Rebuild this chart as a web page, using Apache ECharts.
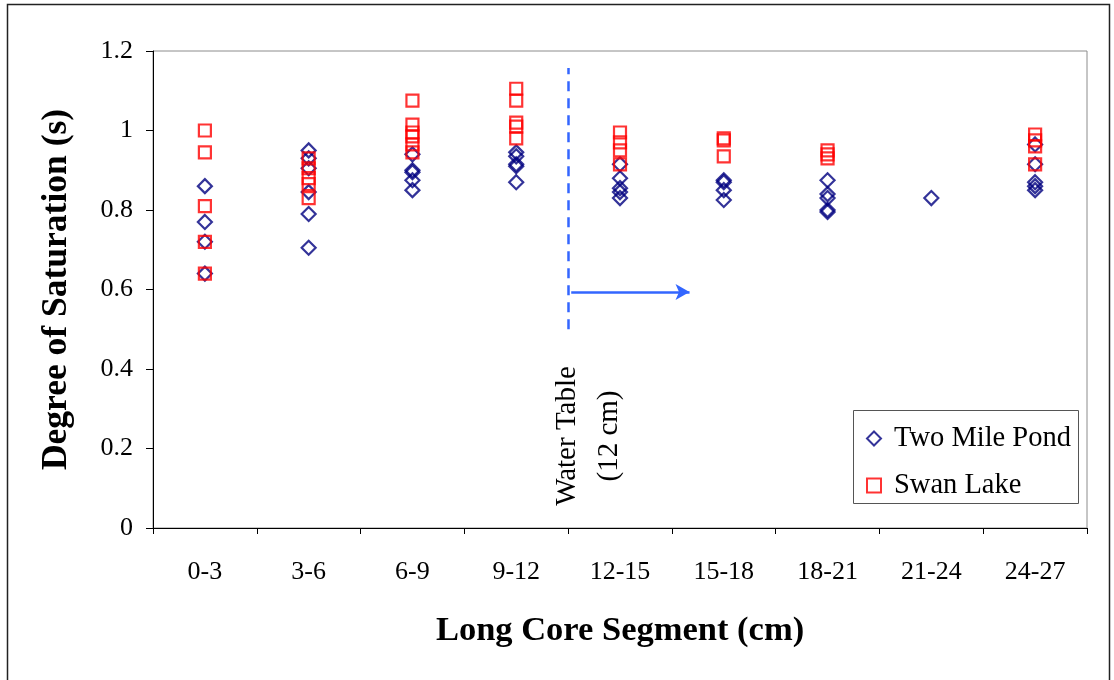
<!DOCTYPE html>
<html>
<head>
<meta charset="utf-8">
<script src="https://cdn.jsdelivr.net/npm/echarts@6/dist/echarts.min.js"></script>
<style>
  html, body { margin: 0; padding: 0; background: #fff; }
  #chart { width: 1114px; height: 680px; }
</style>
</head>
<body>
<div id="chart"></div>
<script>
// Core segments (cm)
const categories = ['0-3', '3-6', '6-9', '9-12', '12-15', '15-18', '18-21', '21-24', '24-27'];

// Degree of saturation readings per segment
const twoMilePond = [
  [0.86, 0.77, 0.72, 0.64],
  [0.95, 0.93, 0.905, 0.845, 0.79, 0.705],
  [0.94, 0.90, 0.895, 0.875, 0.85],
  [0.945, 0.935, 0.915, 0.91, 0.87],
  [0.915, 0.88, 0.855, 0.845, 0.83],
  [0.875, 0.87, 0.85, 0.825],
  [0.875, 0.84, 0.83, 0.80, 0.795],
  [0.83],
  [0.965, 0.915, 0.87, 0.86, 0.85]
];
const swanLake = [
  [1.0, 0.945, 0.81, 0.72, 0.64],
  [0.93, 0.905, 0.88, 0.865, 0.83],
  [1.075, 1.015, 0.995, 0.985, 0.965, 0.945],
  [1.105, 1.075, 1.02, 1.01, 0.98],
  [0.995, 0.97, 0.95, 0.915],
  [0.98, 0.975, 0.935],
  [0.95, 0.94, 0.93],
  [],
  [0.99, 0.975, 0.96, 0.915]
];

// Water table position (segment boundary at 12 cm) and the arrow pointing below it
const waterTableX = 4;
const waterTableSpan = [0.5, 1.157];
const arrowFrom = [4.03, 0.594];
const arrowTo = [5.17, 0.594];

const yTicks = { min: 0, max: 1.2, interval: 0.2 };

function toPoints(groups) {
  const out = [];
  groups.forEach((vals, i) => vals.forEach(v => out.push([categories[i], v])));
  return out;
}

const serif = '"Liberation Serif", "Times New Roman", serif';
const chart = echarts.init(document.getElementById('chart'), null, { renderer: 'canvas' });

chart.setOption({
  backgroundColor: '#ffffff',
  animation: false,
  textStyle: { fontFamily: serif },
  grid: {
    left: 153, top: 51, right: 27, bottom: 152,
    show: true, borderColor: '#8c8c8c', borderWidth: 1, backgroundColor: 'transparent'
  },
  xAxis: [
    {
      type: 'category',
      data: categories,
      boundaryGap: true,
      axisLine: { lineStyle: { color: '#000', width: 1 } },
      axisTick: { show: true, length: 6, inside: false, lineStyle: { color: '#000' } },
      axisLabel: { color: '#000', fontSize: 26, fontFamily: serif, margin: 31 },
      splitLine: { show: false },
      name: 'Long Core Segment (cm)',
      nameLocation: 'middle',
      nameGap: 86,
      nameTextStyle: { color: '#000', fontSize: 34.5, fontWeight: 'bold', fontFamily: serif }
    },
    {
      type: 'value',
      min: 0, max: categories.length,
      show: false
    }
  ],
  yAxis: {
    type: 'value',
    min: yTicks.min, max: yTicks.max, interval: yTicks.interval,
    axisLine: { show: true, lineStyle: { color: '#000', width: 1 } },
    axisTick: { show: true, length: 7, inside: false, lineStyle: { color: '#000' } },
    axisLabel: { color: '#000', fontSize: 26, fontFamily: serif, margin: 20 },
    splitLine: { show: false },
    name: 'Degree of Saturation (s)',
    nameLocation: 'middle',
    nameRotate: 90,
    nameGap: 78,
    nameTextStyle: { color: '#000', fontSize: 35.5, fontWeight: 'bold', fontFamily: serif }
  },
  legend: {
    orient: 'vertical',
    left: 866, top: 424,
    itemWidth: 14, itemHeight: 14,
    itemGap: 18,
    padding: 0,
    textStyle: { color: '#000', fontSize: 28.5, fontFamily: serif, padding: [0, 0, 0, 8] },
    data: ['Two Mile Pond', 'Swan Lake']
  },
  graphic: [
    {
      type: 'rect', silent: true, z: -1,
      shape: { x: 7.5, y: 4.5, width: 1102, height: 720 },
      style: { fill: 'none', stroke: '#222', lineWidth: 1.5 }
    },
    {
      type: 'rect', silent: true,
      shape: { x: 853.5, y: 410.5, width: 225, height: 93 },
      style: { fill: '#fff', stroke: '#555', lineWidth: 1 },
      z: 1
    },
    {
      type: 'text', silent: true,
      x: 588, y: 436, rotation: Math.PI / 2,
      style: {
        text: 'Water Table\n(12 cm)',
        fill: '#000', font: '29px ' + serif,
        align: 'center', verticalAlign: 'middle', lineHeight: 42
      }
    }
  ],
  series: [
    {
      name: 'Two Mile Pond',
      type: 'scatter',
      symbol: 'diamond',
      symbolSize: 14,
      itemStyle: { color: 'rgba(0,0,0,0)', borderColor: '#000080', borderWidth: 2.2 },
      data: toPoints(twoMilePond),
      z: 3
    },
    {
      name: 'Swan Lake',
      type: 'scatter',
      symbol: 'rect',
      symbolSize: 12,
      itemStyle: { color: 'rgba(0,0,0,0)', borderColor: '#ff0000', borderWidth: 2.2 },
      data: toPoints(swanLake),
      z: 4
    },
    {
      name: 'water-table',
      type: 'line',
      xAxisIndex: 1,
      data: [],
      silent: true,
      markLine: {
        silent: true,
        animation: false,
        label: { show: false },
        data: [
          [
            { coord: [waterTableX, waterTableSpan[0]], symbol: 'none',
              lineStyle: { color: '#3366ff', width: 2.5, type: [10, 7] } },
            { coord: [waterTableX, waterTableSpan[1]], symbol: 'none' }
          ],
          [
            { coord: arrowFrom, symbol: 'none',
              lineStyle: { color: '#3366ff', width: 2.5, type: 'solid' } },
            { coord: arrowTo, symbol: 'arrow', symbolSize: [12, 14] }
          ]
        ]
      }
    }
  ]
});
</script>
</body>
</html>
